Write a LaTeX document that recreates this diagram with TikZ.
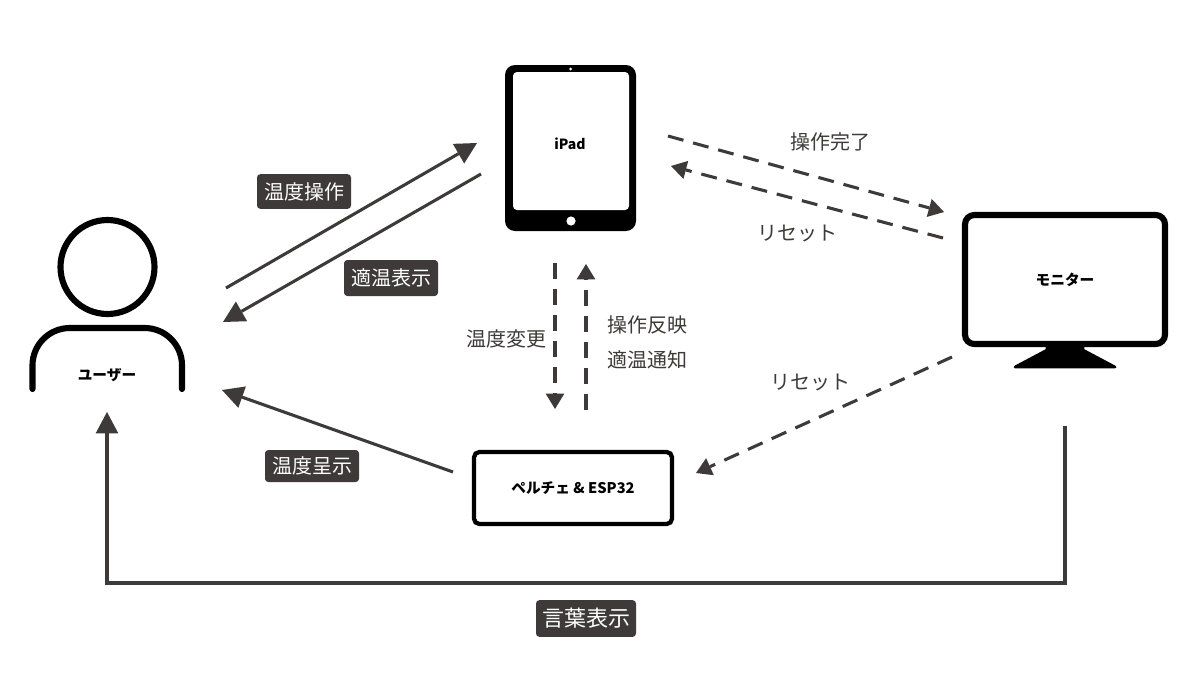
\documentclass[tikz,border=0pt]{standalone}
\usepackage{fontspec}
\setmainfont{Noto Sans CJK JP}
\usetikzlibrary{arrows.meta}
\definecolor{ink}{HTML}{3E3A39}
\tikzset{
  x=0.75pt,y=-0.75pt,
  conn/.style={draw=ink,line width=2.3pt,-{Triangle[length=16pt,width=17pt,line width=0pt]}},
  dconn/.style={draw=ink,line width=2.3pt,dash pattern=on 12pt off 7.5pt,-{Triangle[length=11.5pt,width=14pt,line width=0pt]}},
  tagbox/.style={fill=ink,text=white,rounded corners=2.5pt,inner sep=0pt,font=\fontsize{15}{15}\selectfont},
  plainlabel/.style={text=ink,inner sep=0pt,font=\fontsize{15}{15}\selectfont},
  devlabel/.style={text=black,inner sep=0pt,font=\fontsize{11}{11}\selectfont\bfseries},
}
\begin{document}
\begin{tikzpicture}
\useasboundingbox (0,0) rectangle (1200,686);
\fill[white] (0,0) rectangle (1200,686);
% user
\draw[line width=4.6pt] (107.5,267) circle (47);
\draw[line width=4.6pt,line cap=round,rounded corners=28pt] (32.5,389) -- (32.5,328) -- (182,328) -- (182,389);
\node[devlabel] (user) at (107,375) {ユーザー};
% ipad
\fill[rounded corners=7.5pt] (505,65) rectangle (636,231);
\fill[white,rounded corners=3pt] (513,72) rectangle (629,210);
\fill[white] (570.5,69) circle (1.5);
\fill[white] (571,221) circle (4.6);
\node[devlabel,font=\fontsize{10.5}{10.5}\selectfont\bfseries] (ipad) at (570,144) {iPad};
% monitor
\draw[line width=4.6pt,rounded corners=7pt] (965,215) rectangle (1165,344);
\fill[line join=round,draw=black,line width=2pt] (1047,346) -- (1083,346) -- (1083,350) -- (1115,367) -- (1015,367) -- (1047,350) -- cycle;
\node[devlabel] (monitor) at (1065,280) {モニター};
% peltier
\draw[line width=3.2pt,rounded corners=4pt] (474,452) rectangle (672,524);
\node[devlabel] (peltier) at (573,488) {ペルチェ \& ESP32};
% connector ends
\coordinate (a1) at (226,288); \coordinate (a2) at (477,143);
\coordinate (b1) at (481,174); \coordinate (b2) at (223,322);
\coordinate (c1) at (668,136); \coordinate (c2) at (944,212);
\coordinate (d1) at (943,238); \coordinate (d2) at (671,166);
\coordinate (e1) at (555,263); \coordinate (e2) at (555,409);
\coordinate (f1) at (586,410); \coordinate (f2) at (586,264);
\coordinate (g1) at (952,357); \coordinate (g2) at (696,473);
\coordinate (h1) at (453,472); \coordinate (h2) at (222,390);
\coordinate (i1) at (1065,426); \coordinate (i2) at (1065,583); \coordinate (i3) at (107,583); \coordinate (i4) at (107,412);
\draw[conn] (a1) -- (a2);
\draw[conn] (b1) -- (b2);
\draw[conn] (h1) -- (h2);
\draw[conn,line join=miter] (i1) -- (i2) -- (i3) -- (i4);
\draw[dconn] (c1) -- (c2);
\draw[dconn] (d1) -- (d2);
\draw[dconn] (e1) -- (e2);
\draw[dconn] (f1) -- (f2);
\draw[dconn] (g1) -- (g2);
% labels
\node[tagbox,minimum width=70.5pt,minimum height=26pt] (t1) at (304,191.5) {温度操作};
\node[tagbox,minimum width=70.5pt,minimum height=27pt] (t2) at (391,278) {適温表示};
\node[tagbox,minimum width=70.5pt,minimum height=24pt] (t3) at (312,466) {温度呈示};
\node[tagbox,minimum width=75pt,minimum height=27.5pt,font=\fontsize{16.5}{16.5}\selectfont] (t4) at (586,618.5) {言葉表示};
\node[plainlabel] (l1) at (830,142) {操作完了};
\node[plainlabel] (l2) at (797,234) {リセット};
\node[plainlabel] (l3) at (810,383) {リセット};
\node[plainlabel] (l4) at (506,339) {温度変更};
\node[plainlabel] (l5) at (647,325) {操作反映};
\node[plainlabel] (l6) at (647,360) {適温通知};
\end{tikzpicture}
\end{document}
